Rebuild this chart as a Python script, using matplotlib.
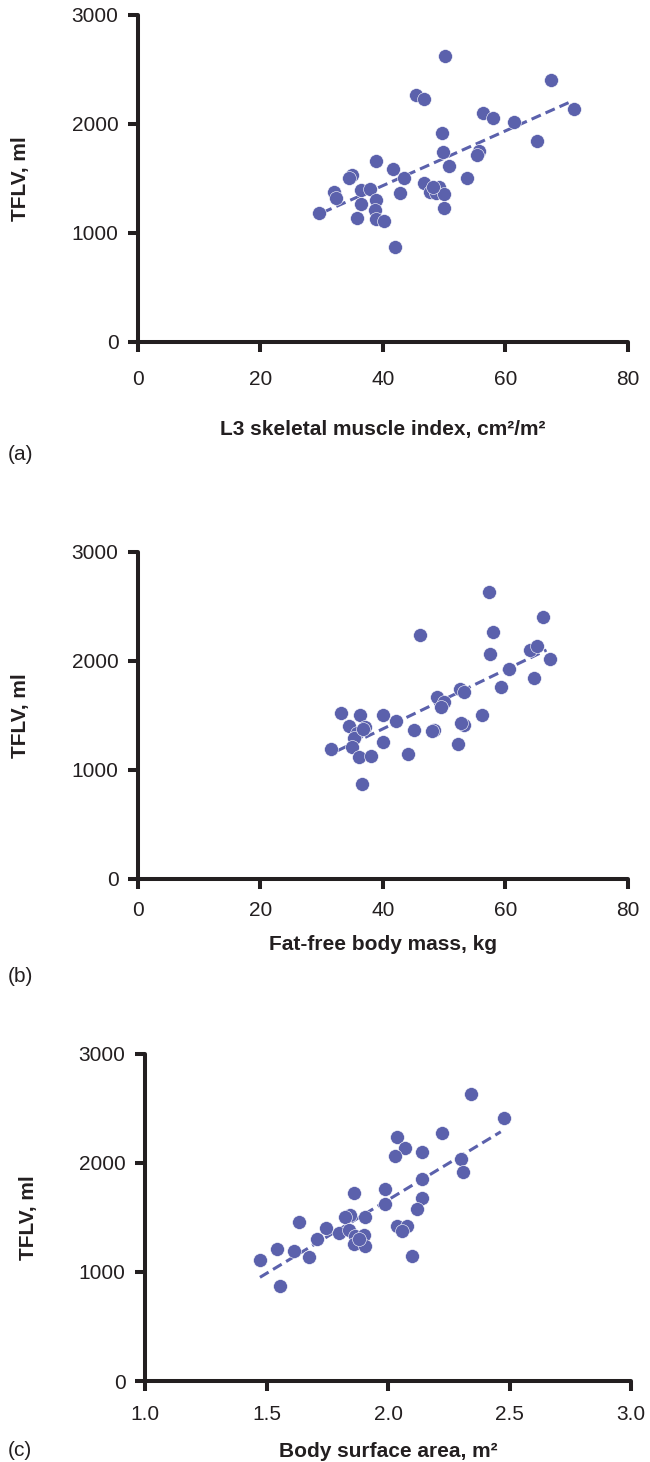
import matplotlib.pyplot as plt

DOT = "#5B61AC"
INK = "#231F20"

plt.rcParams['font.family'] = ['Liberation Sans', 'DejaVu Sans']

# (a) L3 skeletal muscle index vs TFLV
smi = [50.2, 67.5, 45.4, 46.7, 56.3, 58.0, 61.4, 71.2, 65.1, 49.7, 49.8, 55.7, 55.4, 50.8,
       38.9, 41.7, 43.4, 34.9, 34.5, 53.8, 32.0, 32.3, 36.4, 37.8, 38.9, 36.4, 38.7, 38.9,
       40.1, 35.8, 29.6, 42.8, 46.7, 47.6, 49.2, 48.7, 50.0, 50.0, 42.0, 48.1]
tflv_a = [2625, 2402, 2265, 2225, 2097, 2057, 2020, 2134, 1846, 1920, 1745, 1751, 1715, 1617,
          1663, 1584, 1507, 1531, 1507, 1501, 1378, 1323, 1394, 1403, 1302, 1263, 1210, 1125,
          1110, 1140, 1186, 1364, 1455, 1378, 1424, 1364, 1357, 1232, 868, 1424]
fit_a_x = [30.1, 70.3]
fit_a_y = [1186, 2195]

# (b) fat-free body mass vs TFLV
ffm = [57.3, 66.1, 46.1, 58.0, 57.5, 64.0, 65.1, 67.2, 60.6, 64.6, 59.3, 52.5, 53.2, 48.9,
       50.0, 49.5, 56.2, 53.2, 52.8, 48.4, 48.0, 45.1, 52.2, 44.1, 42.1, 40.0, 40.0, 33.1,
       36.2, 34.5, 37.0, 35.8, 35.3, 35.0, 36.1, 38.0, 31.5, 36.5, 36.7]
tflv_b = [2629, 2405, 2237, 2268, 2063, 2100, 2140, 2017, 1923, 1846, 1758, 1742, 1712, 1672,
          1626, 1580, 1504, 1412, 1430, 1366, 1360, 1366, 1238, 1146, 1452, 1504, 1259, 1525,
          1504, 1403, 1397, 1336, 1290, 1213, 1116, 1131, 1189, 871, 1380]
fit_b_x = [32.6, 66.7]
fit_b_y = [1177, 2100]

# (c) body surface area vs TFLV
bsa = [2.343, 2.476, 2.224, 2.038, 2.069, 2.028, 2.141, 2.302, 2.310, 2.141, 1.989, 1.989,
       1.858, 2.141, 2.120, 1.845, 1.824, 1.907, 1.635, 1.746, 2.035, 2.079, 2.058, 1.800,
       1.838, 1.865, 1.900, 1.858, 1.907, 1.707, 1.615, 1.542, 1.675, 1.473, 2.100, 1.555, 1.880]
tflv_c = [2637, 2417, 2279, 2242, 2141, 2064, 2104, 2033, 1920, 1849, 1764, 1626,
          1720, 1681, 1582, 1527, 1506, 1506, 1456, 1405, 1420, 1426, 1374, 1359,
          1389, 1334, 1343, 1260, 1236, 1304, 1190, 1212, 1134, 1113, 1144, 868, 1300]
fit_c_x = [1.473, 2.464]
fit_c_y = [951, 2286]

fig = plt.figure(figsize=(6.5, 14.62), dpi=100)
fig.patch.set_facecolor("white")

panels = [
    dict(rect=[0.2123, 0.7661, 0.7538, 0.2237], x=smi, y=tflv_a, fx=fit_a_x, fy=fit_a_y,
         xlim=(0, 80), xticks=[0, 20, 40, 60, 80], xticklabels=["0", "20", "40", "60", "80"],
         xlabel="L3 skeletal muscle index, cm\u00b2/m\u00b2", xpad=13.5, xlab_y=-0.24,
         tag="(a)", tag_y=1 - 455 / 1462),
    dict(rect=[0.2123, 0.3988, 0.7538, 0.2237], x=ffm, y=tflv_b, fx=fit_b_x, fy=fit_b_y,
         xlim=(0, 80), xticks=[0, 20, 40, 60, 80], xticklabels=["0", "20", "40", "60", "80"],
         xlabel="Fat-free body mass, kg", xpad=9, xlab_y=-0.171,
         tag="(b)", tag_y=1 - 977 / 1462),
    dict(rect=[0.2231, 0.0554, 0.7477, 0.2237], x=bsa, y=tflv_c, fx=fit_c_x, fy=fit_c_y,
         xlim=(1.0, 3.0), xticks=[1.0, 1.5, 2.0, 2.5, 3.0],
         xticklabels=["1.0", "1.5", "2.0", "2.5", "3.0"],
         xlabel="Body surface area, m\u00b2", xpad=10.5, xlab_y=-0.187,
         tag="(c)", tag_y=1 - 1450 / 1462),
]

for p in panels:
    ax = fig.add_axes(p["rect"])
    ax.plot(p["fx"], p["fy"], color=DOT, lw=2.2, linestyle=(0, (3.3, 1.7)), zorder=2)
    ax.scatter(p["x"], p["y"], s=100, color=DOT, edgecolor="white", linewidth=0.4, zorder=3)

    ax.set_xlim(*p["xlim"])
    ax.set_ylim(0, 3000)
    ax.set_xticks(p["xticks"])
    ax.set_xticklabels(p["xticklabels"])
    ax.set_yticks([0, 1000, 2000, 3000])

    for side in ["top", "right"]:
        ax.spines[side].set_visible(False)
    for side in ["left", "bottom"]:
        ax.spines[side].set_linewidth(2.9)
        ax.spines[side].set_color(INK)
        ax.spines[side].set_capstyle("round")

    ax.tick_params(axis="both", direction="out", length=7, width=2.9, color=INK,
                   labelcolor=INK, labelsize=15)
    ax.tick_params(axis="x", pad=p["xpad"])
    ax.tick_params(axis="y", pad=7)

    ax.set_ylabel("TFLV, ml", fontsize=15, fontweight="bold", color=INK)
    ax.yaxis.set_label_coords(-0.22, 0.5)
    ax.set_xlabel(p["xlabel"], fontsize=15, fontweight="bold", color=INK)
    ax.xaxis.set_label_coords(0.5, p["xlab_y"])

    fig.text(0.012, p["tag_y"], p["tag"], fontsize=15, color=INK, va="center", ha="left")

plt.savefig("out.png", dpi=100, facecolor="white")
plt.close()
